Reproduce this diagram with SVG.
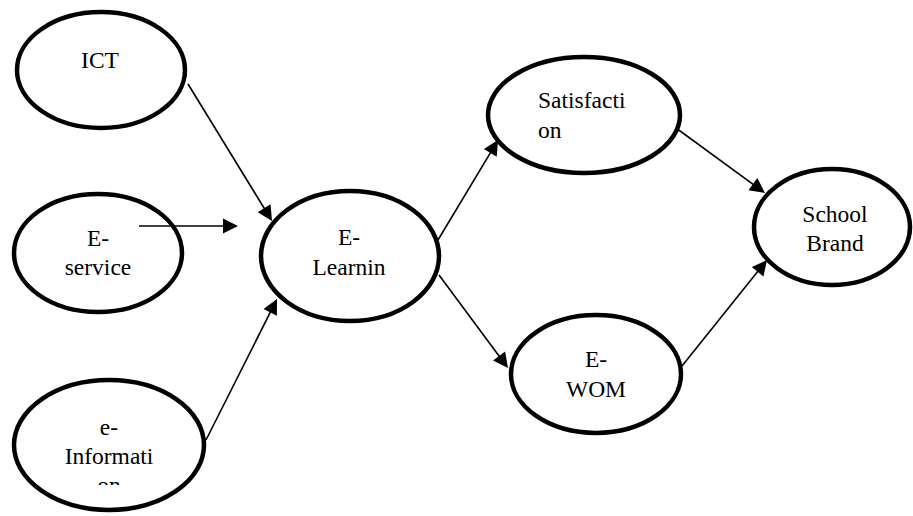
<svg xmlns="http://www.w3.org/2000/svg" width="913" height="516" viewBox="0 0 913 516">
<rect width="913" height="516" fill="#fff"/>
<g id="nodes" font-family="Liberation Serif" font-size="23.5" text-anchor="middle" stroke-width="4.5">
<g id="ict">
<ellipse cx="101" cy="70" rx="84" ry="58" fill="#fff" stroke="#000"/>
<text x="100" y="68" fill="#000">ICT</text>
</g>
<g id="e-service">
<ellipse cx="98" cy="253" rx="84" ry="59" fill="#fff" stroke="#000"/>
<text x="98" y="246" fill="#000">E-</text>
<text x="98" y="275" fill="#000">service</text>
</g>
<g id="e-information">
<ellipse cx="109" cy="445" rx="95" ry="65" fill="#fff" stroke="#000"/>
<text x="109" y="435" fill="#000">e-</text>
<text x="109" y="464" fill="#000">Informati</text>
<text x="109" y="493" fill="#000">on</text>
<rect x="92" y="485" width="34" height="12" fill="#fff" stroke="none"/>
</g>
<g id="e-learning">
<ellipse cx="350" cy="256" rx="89" ry="65" fill="#fff" stroke="#000"/>
<text x="349" y="245" fill="#000">E-</text>
<text x="349" y="275" fill="#000">Learnin</text>
</g>
<g id="satisfaction">
<ellipse cx="584" cy="115" rx="96" ry="58" fill="#fff" stroke="#000"/>
<text x="538" y="108" fill="#000" text-anchor="start">Satisfacti</text>
<text x="538" y="138" fill="#000" text-anchor="start">on</text>
</g>
<g id="e-wom">
<ellipse cx="596" cy="374" rx="85" ry="59" fill="#fff" stroke="#000"/>
<text x="596" y="367" fill="#000">E-</text>
<text x="596" y="397" fill="#000">WOM</text>
</g>
<g id="school-brand">
<ellipse cx="832" cy="227" rx="78" ry="58" fill="#fff" stroke="#000"/>
<text x="835" y="222" fill="#000">School</text>
<text x="835" y="251" fill="#000">Brand</text>
</g>
</g>
<g id="connectors">
<g stroke="#000" stroke-width="1.6">
<line x1="188" y1="84" x2="266.8" y2="212.5"/>
<line x1="139" y1="226" x2="228" y2="226"/>
<line x1="206" y1="440" x2="272.5" y2="307.9"/>
<line x1="438" y1="240" x2="492.9" y2="148.6"/>
<line x1="439" y1="275" x2="502" y2="360"/>
<line x1="676" y1="128" x2="756.9" y2="187.1"/>
<line x1="682" y1="366" x2="760.7" y2="267.8"/>
</g>
<g fill="#000">
<polygon points="272,221 257.77,212.13 270.55,204.29"/>
<polygon points="238,226 223,218.5 223,233.5"/>
<polygon points="277,299 276.95,315.77 263.55,309.03"/>
<polygon points="498,140 496.71,156.72 483.85,149"/>
<polygon points="508,368 493.04,360.42 505.08,351.48"/>
<polygon points="765,193 748.47,190.21 757.31,178.09"/>
<polygon points="767,260 763.47,276.39 751.77,267.01"/>
</g>
</g>
</svg>
